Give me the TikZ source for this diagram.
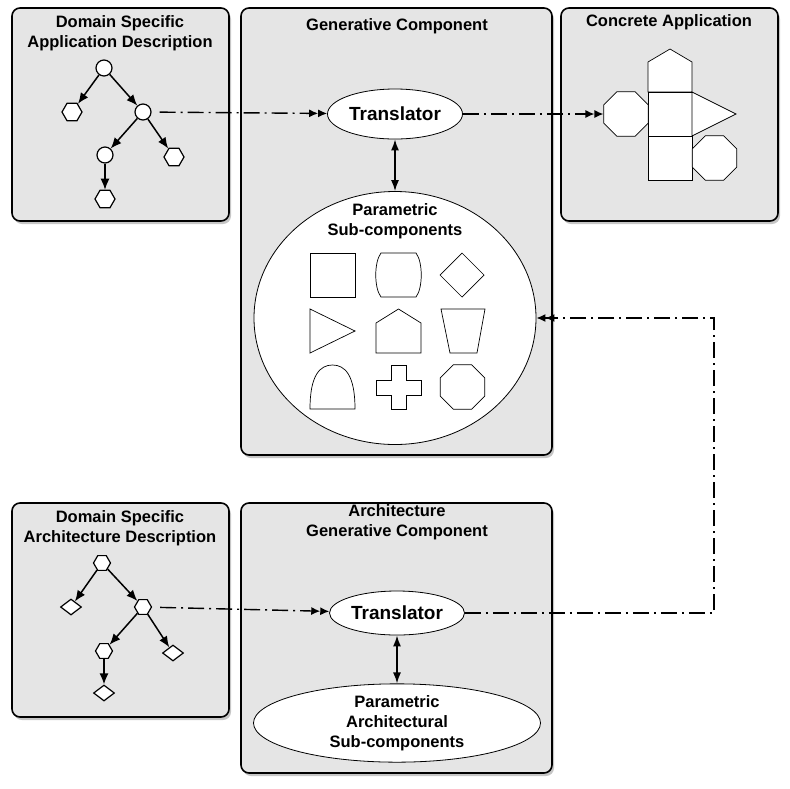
\documentclass[tikz,border=0pt]{standalone}
\usepackage{fontspec}
\setmainfont{Liberation Sans}
\usetikzlibrary{shapes.geometric,arrows.meta,shadows}

\begin{document}
\begin{tikzpicture}[x=1pt,y=-1pt]
        \tikzstyle{box_style} = [draw=black, line width=1.6pt, fill=black!10, rounded corners=8pt, drop shadow={shadow xshift=2pt, shadow yshift=-3pt, opacity=0.45}, inner sep=0pt]
        \tikzstyle{title_style} = [font=\fontsize{16.5}{20}\selectfont\bfseries, align=center]
        \tikzstyle{circ_style} = [circle, draw=black, line width=1.2pt, fill=white, minimum size=16pt, inner sep=0pt]
        \tikzstyle{hex_style} = [regular polygon, regular polygon sides=6, draw=black, line width=1.2pt, fill=white, minimum size=20pt, inner sep=0pt]
        \tikzstyle{dia_style} = [diamond, draw=black, line width=1.2pt, fill=white, minimum width=21pt, minimum height=16pt, inner sep=0pt]
        \tikzstyle{oct_style} = [regular polygon, regular polygon sides=8, draw=black, line width=0.7pt, fill=white, minimum size=48pt, inner sep=0pt]
        \tikzstyle{shape_style} = [draw=black, line width=0.7pt, fill=white]
        \tikzstyle{tree_edge} = [draw=black, line width=1.5pt, -{Latex[length=11pt,width=9pt]}]
        \tikzstyle{trans_style} = [ellipse, draw=black, line width=0.8pt, fill=white, font=\fontsize{19}{22}\selectfont\bfseries, minimum width=135pt, minimum height=50pt, inner sep=0pt]
        \tikzstyle{part_style} = [ellipse, draw=black, line width=0.8pt, fill=white, inner sep=0pt]
        \tikzstyle{flow_style} = [draw=black, line width=1.4pt, dash pattern=on 16pt off 5pt on 2pt off 5pt, -{Latex[length=9pt,width=8pt]Latex[length=9pt,width=8pt]}]
        \tikzstyle{link_style} = [draw=black, line width=1.5pt, {Latex[length=11pt,width=8pt]}-{Latex[length=11pt,width=8pt]}]
        \useasboundingbox (0,0) rectangle (790,788);
        \node[box_style, minimum width=217pt, minimum height=213pt] (b1) at (120.5,114.5) {};
        \node[box_style, minimum width=311pt, minimum height=447pt] (b2) at (396.5,231.5) {};
        \node[box_style, minimum width=217pt, minimum height=213pt] (b3) at (669.5,114.5) {};
        \node[box_style, minimum width=217pt, minimum height=214pt] (b4) at (120.5,610) {};
        \node[box_style, minimum width=311pt, minimum height=270pt] (b5) at (396.5,638) {};
        \node[title_style] (l1) at (120,33) {Domain Specific\\Application Description};
        \node[title_style] (l2) at (397,26) {Generative Component};
        \node[title_style] (l3) at (669,22) {Concrete Application};
        \node[title_style] (l4) at (120,528) {Domain Specific\\Architecture Description};
        \node[title_style] (l5) at (397,522) {Architecture\\Generative Component};
        \node[circ_style] (v1) at (104,68) {};
        \node[hex_style] (v2) at (72,112) {};
        \node[circ_style] (v3) at (143,112) {};
        \node[circ_style] (v4) at (105,155) {};
        \node[hex_style] (v5) at (174,157) {};
        \node[hex_style] (v6) at (105,199) {};
        \draw[tree_edge] (v1) -- (v2);
        \draw[tree_edge] (v1) -- (v3);
        \draw[tree_edge] (v3) -- (v4);
        \draw[tree_edge] (v3) -- (v5);
        \draw[tree_edge] (v4) -- (v6);
        \node[hex_style, minimum size=17pt] (w1) at (102,563) {};
        \node[dia_style] (w2) at (71,607) {};
        \node[hex_style, minimum size=17pt] (w3) at (143,607) {};
        \node[hex_style, minimum size=17pt] (w4) at (104,651) {};
        \node[dia_style] (w5) at (173,653) {};
        \node[dia_style] (w6) at (104,693) {};
        \draw[tree_edge] (w1) -- (w2);
        \draw[tree_edge] (w1) -- (w3);
        \draw[tree_edge] (w3) -- (w4);
        \draw[tree_edge] (w3) -- (w5);
        \draw[tree_edge] (w4) -- (w6);
        \node[trans_style] (t1) at (395,114) {Translator};
        \node[part_style, minimum width=282pt, minimum height=253pt] (p1) at (395,318) {};
        \node[title_style] (p1t) at (395,221) {Parametric\\Sub-components};
        \node[trans_style, minimum height=44pt] (t2) at (397,613) {Translator};
        \node[part_style, title_style, minimum width=287pt, minimum height=73pt] (p2) at (397,723) {Parametric\\Architectural\\Sub-components};
        \draw[link_style] (t1) -- (p1);
        \draw[link_style] (t2) -- (p2);
        \draw[shape_style] (310,253) rectangle (355,297);
        \draw[shape_style] (381,253) -- (416,253) .. controls (423,262) and (423,288) .. (416,297) -- (381,297) .. controls (374,288) and (374,262) .. (381,253) -- cycle;
        \draw[shape_style] (440,275) -- (462,253) -- (484,275) -- (462,297) -- cycle;
        \draw[shape_style] (310,309) -- (355,331) -- (310,353) -- cycle;
        \draw[shape_style] (376,353) -- (376,323) -- (398.5,309) -- (421,323) -- (421,353) -- cycle;
        \draw[shape_style] (441,309) -- (485,309) -- (477,353) -- (450,353) -- cycle;
        \draw[shape_style] (310,409) .. controls (310,375) and (320,365) .. (332.5,365) .. controls (345,365) and (355,375) .. (355,409) -- cycle;
        \draw[shape_style] (391,365) -- (406,365) -- (406,380) -- (421,380) -- (421,395) -- (406,395) -- (406,409) -- (391,409) -- (391,395) -- (376,395) -- (376,380) -- (391,380) -- cycle;
        \node[oct_style] (oc3) at (462.5,387) {};
        \draw[shape_style] (648,92) -- (648,62) -- (670,49) -- (692,62) -- (692,92) -- cycle;
        \draw[shape_style] (648,92) rectangle (692,136);
        \draw[shape_style] (648,136) rectangle (692,180);
        \draw[shape_style] (692,92) -- (736,114) -- (692,136) -- cycle;
        \node[oct_style] (oc1) at (626,114) {};
        \node[oct_style] (oc2) at (714.5,158) {};
        \draw[flow_style, shorten <=8pt] (v3) -- (t1);
        \draw[flow_style] (t1) -- (oc1);
        \draw[flow_style, shorten <=8pt] (w3) -- (t2);
        \coordinate (r1) at (714,318);
        \draw[flow_style] (t2.east) -| (r1) -- (p1.east);
      \end{tikzpicture}
\end{document}
